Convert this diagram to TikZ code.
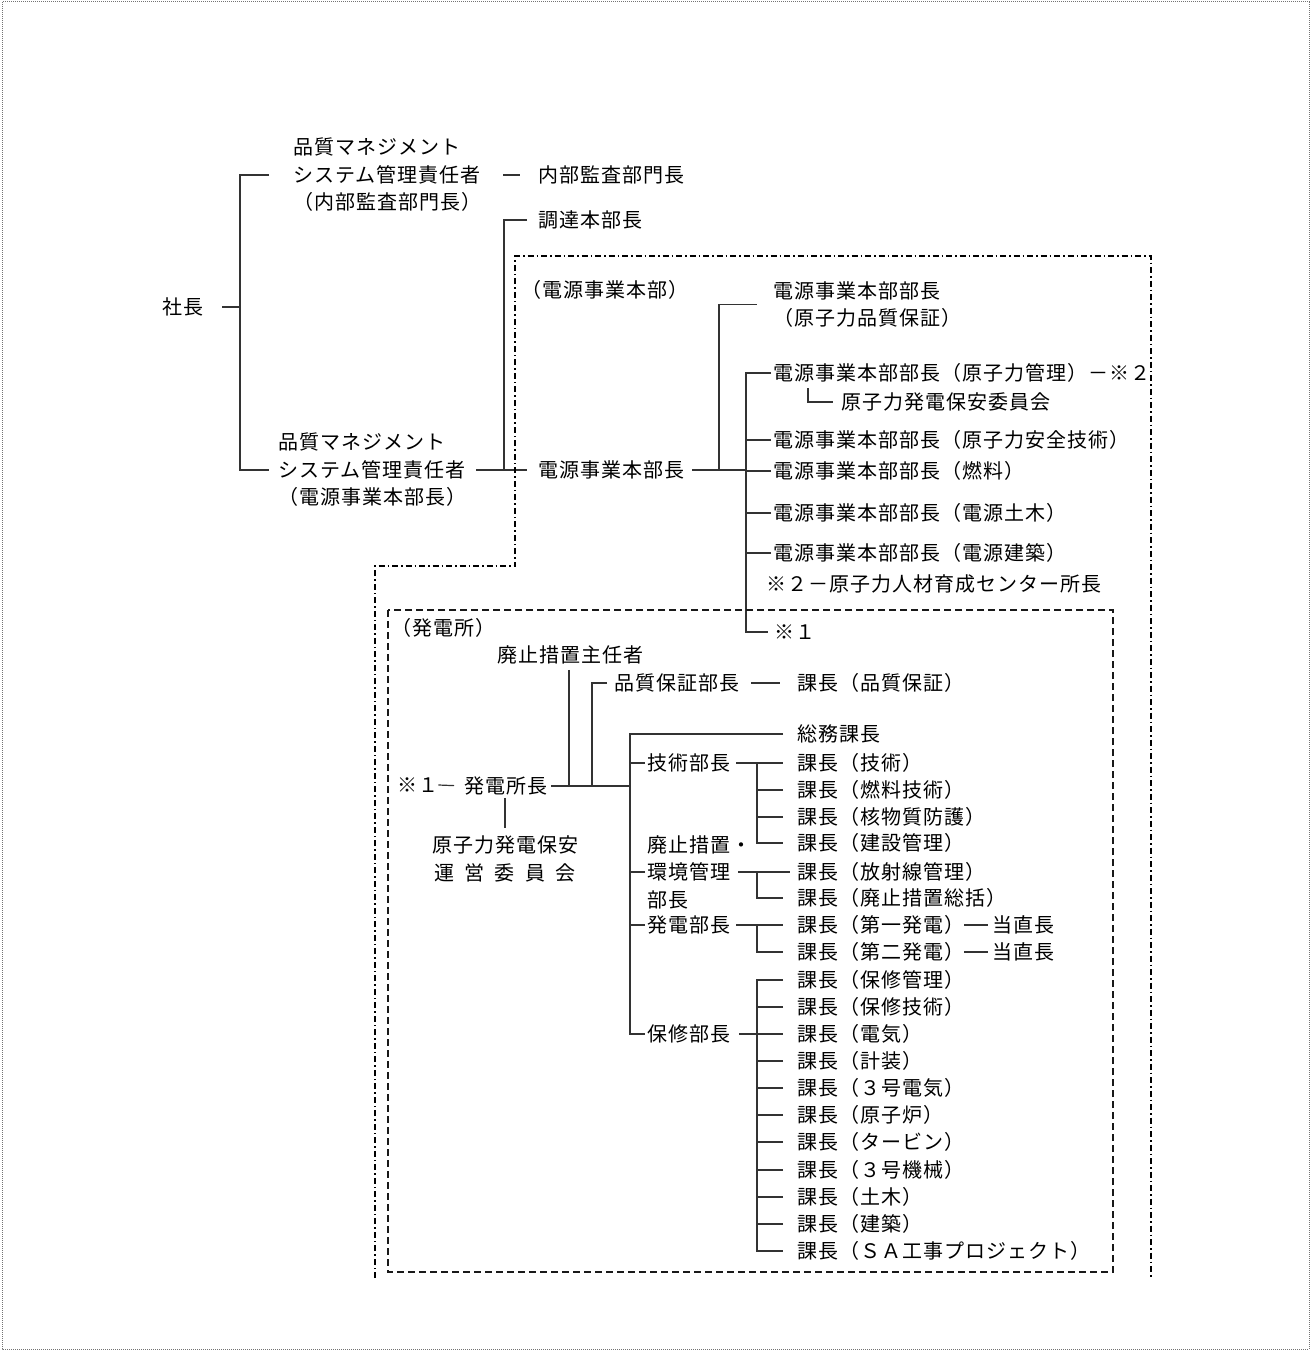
\documentclass[tikz,border=0pt]{standalone}
\usepackage{fontspec}
\newfontfamily\jp[LetterSpace=5]{Noto Sans CJK JP}
\begin{document}
\begin{tikzpicture}[x=1pt,y=-1pt]
        \tikzstyle{post}=[inner sep=0pt,anchor=west,font=\jp\fontsize{20}{27.5}\selectfont,text height=15.2pt,text depth=0pt]
        \tikzstyle{block}=[inner sep=0pt,anchor=west,align=left,font=\jp\fontsize{20}{27.5}\selectfont]
        \tikzstyle{edge}=[draw=black!80,line width=1.2pt]
        \tikzstyle{divline}=[draw=black,line width=1.6pt,dash pattern=on 6pt off 3pt on 1.5pt off 3pt]
        \tikzstyle{plantline}=[draw=black!90,line width=1.6pt,dash pattern=on 7pt off 4pt]
        \tikzstyle{frameline}=[draw=black!55,line width=1pt,dash pattern=on 1pt off 1pt]
        \useasboundingbox (0,0) rectangle (1316,1351);
        \draw[frameline] (2,2) rectangle (1309,1349);
       \begin{scope}

         \node [post] (shacho) at (162,307) {社長};
         \node [block] (qms1) at (293,175) {品質マネジメント\\システム管理責任者\\（内部監査部門長）};
         \node [post] (naibu) at (538,175) {内部監査部門長};
         \node [post] (chotatsu) at (538,220) {調達本部長};
         \node [block] (qms2) at (278,470) {品質マネジメント\\システム管理責任者\\（電源事業本部長）};
         \node [post] (lblhonbu) at (521,290) {（電源事業本部）};
         \node [post] (dengen) at (538,470) {電源事業本部長};
         \node [block] (bq) at (773,304.5) {電源事業本部部長\\（原子力品質保証）};
         \node [post] (bk) at (773,373) {電源事業本部部長（原子力管理）－※２};
         \node [post] (hoan) at (841,402) {原子力発電保安委員会};
         \node [post] (ba) at (773,440) {電源事業本部部長（原子力安全技術）};
         \node [post] (bn) at (773,471) {電源事業本部部長（燃料）};
         \node [post] (bd) at (773,513) {電源事業本部部長（電源土木）};
         \node [post] (bc) at (773,553) {電源事業本部部長（電源建築）};
         \node [post] (jinzai) at (766,584) {※２－原子力人材育成センター所長};
         \node [post] (kome1) at (774,632) {※１};

         \coordinate (j0) at (240,307);
         \coordinate (j1) at (504,470);
         \coordinate (j2) at (719,470);
         \coordinate (j3) at (746,470);
         \coordinate (j4) at (746,632);
         \coordinate (c1) at (808,388);

 		\draw[edge] ([xshift=19pt]shacho.east) -- (j0);
 		\draw[edge] ([xshift=-24pt]qms1.west) -| (j0) |- ([xshift=-9pt]qms2.west);
 		\draw[edge,shorten <=22pt,shorten >=18pt] (qms1.east) -- (naibu.west);
 		\draw[edge] ([xshift=-11pt]chotatsu.west) -| (j1);
 		\draw[edge,shorten <=10pt,shorten >=11pt] (qms2.east) -- (dengen.west);
 		\draw[edge] ([xshift=8pt]dengen.east) -- (j3);
 		\draw[edge] (j2) |- ([xshift=-16pt]bq.west);
 		\draw[edge] ([xshift=-2pt]bk.west) -| (j4) -- ([xshift=-6pt]kome1.west);
 		\draw[edge] ([xshift=-2pt]ba.west) -- (ba.west -| j3);
 		\draw[edge] ([xshift=-2pt]bn.west) -- (bn.west -| j3);
 		\draw[edge] ([xshift=-2pt]bd.west) -- (bd.west -| j3);
 		\draw[edge] ([xshift=-2pt]bc.west) -- (bc.west -| j3);
 		\draw[edge] (c1) |- ([xshift=-8pt]hoan.west);

 		\draw[divline] (375,1278) -- (375,566) -- (515,566) -- (515,256) -- (1151,256) -- (1151,1278);

        \end{scope}
       \begin{scope}

         \node [post] (lblplant) at (391,628) {（発電所）};
         \node [post] (haishi) at (497,655) {廃止措置主任者};
         \node [post] (hinsho) at (614,683) {品質保証部長};
         \node [post] (kqa) at (797,683) {課長（品質保証）};
         \node [post] (kome1b) at (397,785) {※１};
         \node [post] (shocho) at (464,786) {発電所長};
         \node [block,anchor=center,align=center] (unei) at (505,859) {原子力発電保安\\運\hspace{10.5pt}営\hspace{10.5pt}委\hspace{10.5pt}員\hspace{10.5pt}会};
         \node [post] (somu) at (797,734) {総務課長};
         \node [post] (gijutsu) at (647,763) {技術部長};
         \node [post] (k1) at (797,763) {課長（技術）};
         \node [post] (k2) at (797,790) {課長（燃料技術）};
         \node [post] (k3) at (797,817) {課長（核物質防護）};
         \node [post] (k4) at (797,843) {課長（建設管理）};
         \node [block] (kankyo) at (647,872) {廃止措置・\\環境管理\\部長};
         \node [post] (k5) at (797,872) {課長（放射線管理）};
         \node [post] (k6) at (797,898) {課長（廃止措置総括）};
         \node [post] (hatsuden) at (647,925) {発電部長};
         \node [post] (k7) at (797,925) {課長（第一発電）};
         \node [post] (t1) at (992,925) {当直長};
         \node [post] (k8) at (797,952) {課長（第二発電）};
         \node [post] (t2) at (992,952) {当直長};
         \node [post] (hoshu) at (647,1034) {保修部長};
         \node [post] (m1) at (797,980) {課長（保修管理）};
         \node [post] (m2) at (797,1007) {課長（保修技術）};
         \node [post] (m3) at (797,1034) {課長（電気）};
         \node [post] (m4) at (797,1061) {課長（計装）};
         \node [post] (m5) at (797,1088) {課長（３号電気）};
         \node [post] (m6) at (797,1115) {課長（原子炉）};
         \node [post] (m7) at (797,1142) {課長（タービン）};
         \node [post] (m8) at (797,1170) {課長（３号機械）};
         \node [post] (m9) at (797,1197) {課長（土木）};
         \node [post] (m10) at (797,1224) {課長（建築）};
         \node [post] (m11) at (797,1251) {課長（ＳＡ工事プロジェクト）};

         \coordinate (j5) at (630,786);
         \coordinate (j6) at (569,786);
         \coordinate (j7) at (592,786);
         \coordinate (g1) at (757,763);
         \coordinate (g2) at (757,872);
         \coordinate (g3) at (757,925);
         \coordinate (h0) at (757,1034);

 		\draw[edge,shorten >=10pt] (kome1b.east) -- (shocho.west);
 		\draw[edge] ([xshift=4pt]shocho.east) -- (j5);
 		\draw[edge,shorten <=7pt] (haishi.south -| j6) -- (j6);
 		\draw[edge] ([xshift=-7pt]hinsho.west) -| (j7);
 		\draw[edge,shorten <=12pt,shorten >=17pt] (hinsho.east) -- (kqa.west);
 		\draw[edge,shorten <=4pt,shorten >=8pt] (shocho.south -| unei.north) -- (unei.north);
 		\draw[edge] ([xshift=-14pt]somu.west) -| (j5) |- ([xshift=-2pt]hoshu.west);
 		\draw[edge] ([xshift=-2pt]gijutsu.west) -- (gijutsu.west -| j5);
 		\draw[edge] ([xshift=-2pt]kankyo.west) -- (kankyo.west -| j5);
 		\draw[edge] ([xshift=-2pt]hatsuden.west) -- (hatsuden.west -| j5);

 		\draw[edge,shorten <=6pt,shorten >=14pt] (gijutsu.east) -- (k1.west);
 		\draw[edge] (g1) |- ([xshift=-14pt]k4.west);
 		\draw[edge] ([xshift=-14pt]k2.west) -- (k2.west -| g1);
 		\draw[edge] ([xshift=-14pt]k3.west) -- (k3.west -| g1);
 		\draw[edge,shorten >=7pt] ([xshift=91pt]kankyo.west) -- (k5.west);
 		\draw[edge] (g2) |- ([xshift=-14pt]k6.west);
 		\draw[edge,shorten <=6pt,shorten >=14pt] (hatsuden.east) -- (k7.west);
 		\draw[edge] (g3) |- ([xshift=-14pt]k8.west);
 		\draw[edge,shorten >=4pt] (k7.east) -- (t1.west);
 		\draw[edge,shorten >=4pt] (k8.east) -- (t2.west);

 		\draw[edge,shorten <=9pt,shorten >=14pt] (hoshu.east) -- (m3.west);
 		\draw[edge] ([xshift=-14pt]m1.west) -| (h0) |- ([xshift=-14pt]m11.west);
 		\draw[edge] ([xshift=-14pt]m2.west) -- (m2.west -| h0);
 		\draw[edge] ([xshift=-14pt]m4.west) -- (m4.west -| h0);
 		\draw[edge] ([xshift=-14pt]m5.west) -- (m5.west -| h0);
 		\draw[edge] ([xshift=-14pt]m6.west) -- (m6.west -| h0);
 		\draw[edge] ([xshift=-14pt]m7.west) -- (m7.west -| h0);
 		\draw[edge] ([xshift=-14pt]m8.west) -- (m8.west -| h0);
 		\draw[edge] ([xshift=-14pt]m9.west) -- (m9.west -| h0);
 		\draw[edge] ([xshift=-14pt]m10.west) -- (m10.west -| h0);

 		\draw[plantline] (388,610) rectangle (1113,1272);

        \end{scope}
      \end{tikzpicture}
\end{document}
